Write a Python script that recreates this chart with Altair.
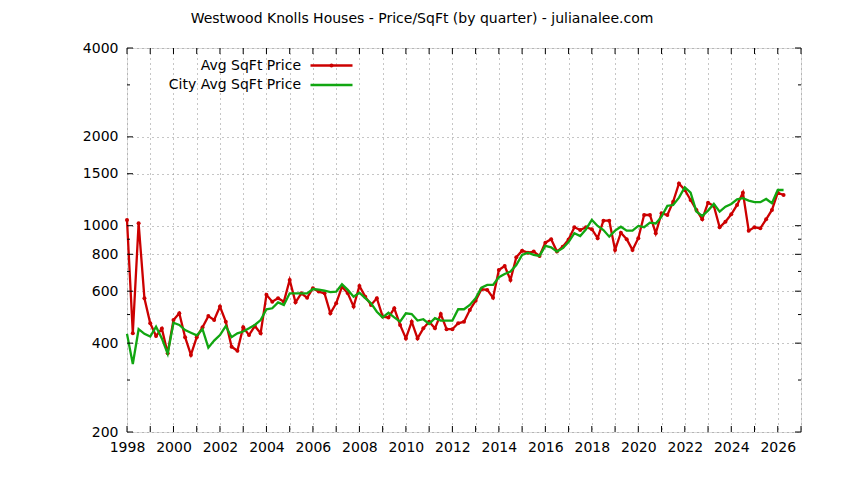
import altair as alt
import pandas as pd

# ---------------- data ----------------
start_year = 1998.0
avg_price = [1046, 432, 1019, 568, 467, 423, 448, 370, 479, 505, 419, 365, 419, 453, 494, 479, 532, 473, 389, 377,
             453, 426, 457, 432, 583, 553, 568, 553, 655, 550, 590, 570, 614, 598, 590, 505, 546, 621, 590,
             532, 625, 575, 539, 568, 492, 489, 525, 461, 415, 473, 415, 449, 473, 449, 502, 446, 446,
             467, 473, 518, 557, 609, 606, 570, 708, 730, 655, 782, 823, 810, 817, 790, 876, 900, 817, 849, 898,
             988, 967, 988, 973, 907, 1040, 1040, 828, 947, 900, 828, 907, 1087, 1087, 943, 1102, 1087, 1206, 1390,
             1321, 1222, 1131, 1051, 1197, 1167, 988, 1032, 1093, 1176, 1294, 962, 988, 980, 1051, 1131, 1294, 1271]
city_price = [430, 340, 446, 430, 421, 455, 415, 368, 469, 461, 443, 434, 425, 446, 386, 408, 426, 457, 419, 432,
              438, 449, 461, 479, 521, 525, 550, 539, 590, 590, 590, 590, 610, 607, 602, 596, 598, 633, 606,
              575, 593, 568, 546, 511, 489, 507, 489, 473, 505, 502, 477, 482, 465, 486, 477, 477, 477,
              521, 521, 539, 568, 617, 630, 630, 669, 686, 699, 736, 796, 810, 796, 790, 854, 845, 817, 839, 880,
              943, 923, 973, 1046, 998, 967, 918, 962, 992, 962, 962, 998, 988, 1024, 1018, 1073, 1167, 1175, 1245,
              1350, 1294, 1116, 1079, 1125, 1185, 1116, 1160, 1185, 1229, 1239, 1216, 1201, 1201, 1232, 1191, 1321, 1321]
years = [start_year + 0.25 * i for i in range(len(avg_price))]

x_ticks = list(range(1998, 2028))
y_major = [200, 400, 600, 800, 1000, 1500, 2000, 4000]
y_minor = [300, 500, 700, 900, 3000]
legend_labels = ["Avg SqFt Price", "City Avg SqFt Price"]
title_text = "Westwood Knolls Houses - Price/SqFt (by quarter) - julianalee.com"

RED = "#cc0000"
GREEN = "#11a611"
FONT = "DejaVu Sans"
FS = 14
W, H = 674, 384

df = pd.DataFrame({"year": years, "avg": avg_price, "city": city_price})
xt = pd.DataFrame({"year": x_ticks})
ymaj = pd.DataFrame({"price": y_major})
ymin = pd.DataFrame({"price": y_minor})

xscale = alt.Scale(domain=[1998, 2027], nice=False, zero=False)
yscale = alt.Scale(type="log", domain=[200, 4000], nice=False)

xaxis = alt.Axis(values=x_ticks, format="d",
                 labelExpr="datum.value % 2 == 0 ? datum.label : ''",
                 grid=True, gridDash=[1, 4], gridColor="#8c8c8c", gridWidth=1,
                 ticks=False, domain=False, labelFlush=False,
                 labelFont=FONT, labelFontSize=FS, labelColor="black",
                 labelPadding=8, title=None)
yaxis = alt.Axis(values=y_major, format="d",
                 grid=True, gridDash=[1, 4], gridColor="#8c8c8c", gridWidth=1,
                 ticks=False, domain=False, labelFlush=False,
                 labelFont=FONT, labelFontSize=FS, labelColor="black",
                 labelPadding=9, title=None)

X = alt.X("year:Q", scale=xscale, axis=xaxis)

red = alt.Chart(df).mark_line(color=RED, strokeWidth=2.3,
                              point=alt.OverlayMarkDef(filled=True, size=16, color=RED)).encode(
    x=X, y=alt.Y("avg:Q", scale=yscale, axis=yaxis))
green = alt.Chart(df).mark_line(color=GREEN, strokeWidth=2.3).encode(
    x=X, y=alt.Y("city:Q", scale=yscale, axis=yaxis))

Yp = alt.Y("price:Q", scale=yscale, axis=yaxis)

xt_bottom = alt.Chart(xt).mark_rule(color="black").encode(x=X, y=alt.value(H), y2=alt.value(H - 6))
xt_top = alt.Chart(xt).mark_rule(color="black").encode(x=X, y=alt.value(0), y2=alt.value(6))
yt_l = alt.Chart(ymaj).mark_rule(color="black").encode(y=Yp, x=alt.value(0), x2=alt.value(6))
yt_r = alt.Chart(ymaj).mark_rule(color="black").encode(y=Yp, x=alt.value(W), x2=alt.value(W - 6))
ym_l = alt.Chart(ymin).mark_rule(color="black").encode(y=Yp, x=alt.value(0), x2=alt.value(3))
ym_r = alt.Chart(ymin).mark_rule(color="black").encode(y=Yp, x=alt.value(W), x2=alt.value(W - 3))

def txt(s, x, y, align):
    return alt.Chart(pd.DataFrame({"t": [s]})).mark_text(
        font=FONT, fontSize=FS, color="black", align=align, baseline="middle").encode(
        text="t:N", x=alt.value(x), y=alt.value(y))

leg1 = txt(legend_labels[0], 174, 17.5, "right")
leg2 = txt(legend_labels[1], 174, 37, "right")
title = txt(title_text, 295, -29, "center")

one = pd.DataFrame({"k": [0]})
leg1_line = alt.Chart(one).mark_rule(color=RED, strokeWidth=2.3).encode(
    x=alt.value(183.5), x2=alt.value(225.5), y=alt.value(17.5))
leg1_pt = alt.Chart(one).mark_point(filled=True, size=16, color=RED, opacity=1).encode(
    x=alt.value(204.5), y=alt.value(17.5))
leg2_line = alt.Chart(one).mark_rule(color=GREEN, strokeWidth=2.3).encode(
    x=alt.value(183.5), x2=alt.value(225.5), y=alt.value(37))

chart = alt.layer(red, green, xt_bottom, xt_top, yt_l, yt_r, ym_l, ym_r,
                  leg1, leg2, leg1_line, leg1_pt, leg2_line, title).properties(
    width=W, height=H,
    autosize=alt.AutoSizeParams(type="none"),
    padding={"left": 119, "top": 40, "right": 35, "bottom": 40},
).configure_view(stroke="black", strokeWidth=1).configure(background="white")

chart.save("out.html", embed_options={"renderer": "svg", "actions": False})
